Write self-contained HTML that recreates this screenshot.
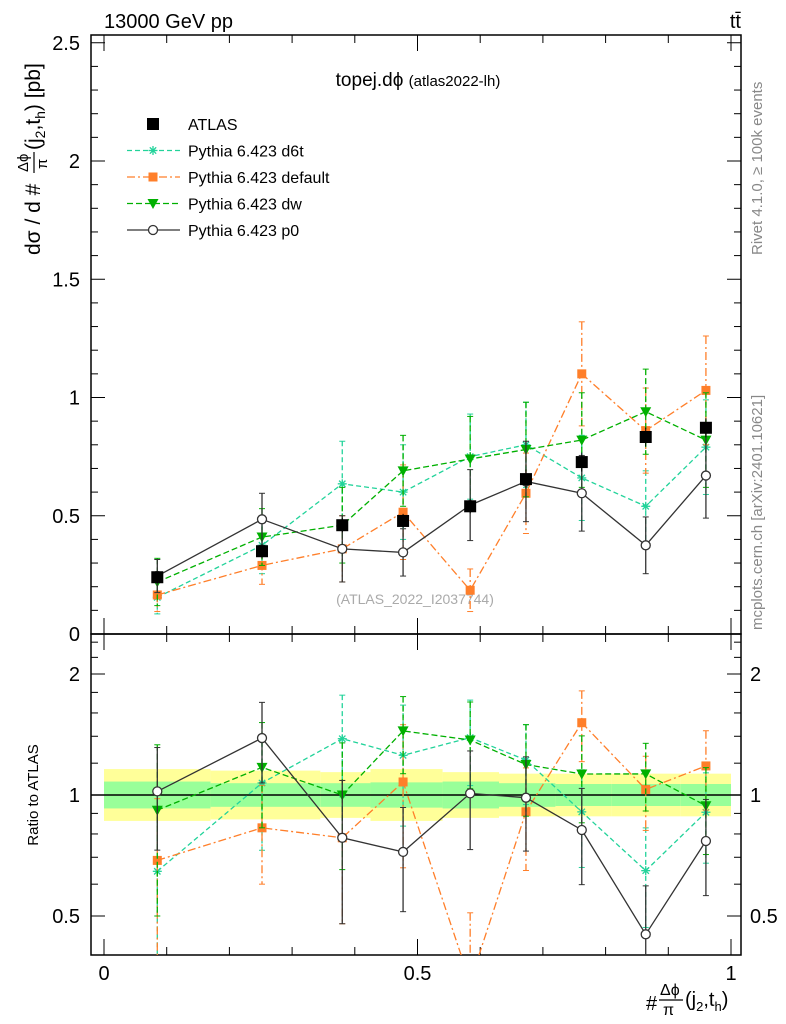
<!DOCTYPE html>
<html><head><meta charset="utf-8"><style>
html,body{margin:0;padding:0;background:#fff;overflow:hidden;width:786px;height:1024px}
svg{font-family:"Liberation Sans",sans-serif;display:block}
</style></head><body>
<svg id="c" width="786" height="1024" xmlns="http://www.w3.org/2000/svg">
<text x="104" y="28" font-size="20">13000 GeV pp</text>
<text x="741" y="28" font-size="20" text-anchor="end">tt̄</text>
<text x="418" y="86" font-size="19" text-anchor="middle">topej.dϕ <tspan font-size="15">(atlas2022-lh)</tspan></text>
<text x="415" y="604" font-size="14" fill="#aaa" text-anchor="middle">(ATLAS_2022_I2037744)</text>
<text transform="translate(762,255) rotate(-90)" font-size="15" fill="#888">Rivet 4.1.0, ≥ 100k events</text>
<text transform="translate(762,630) rotate(-90)" font-size="15" fill="#888">mcplots.cern.ch [arXiv:2401.10621]</text>
<g transform="translate(40,35) rotate(-90)">
<text x="-220" y="0" font-size="21">dσ / d #</text>
<text x="-137" y="-12" font-size="15">Δϕ</text>
<line x1="-138" x2="-117" y1="-6" y2="-6" stroke="#000" stroke-width="1.2"/>
<text x="-134" y="7" font-size="15">π</text>
<text x="-115" y="0" font-size="21">(j<tspan font-size="14" dy="5">2</tspan><tspan dy="-5">,t</tspan><tspan font-size="14" dy="5">h</tspan><tspan dy="-5">) [pb]</tspan></text>
</g>
<text transform="translate(38,795) rotate(-90)" font-size="15" text-anchor="middle">Ratio to ATLAS</text>
<g>
<text x="646" y="1010" font-size="20">#</text>
<text x="660" y="995" font-size="16">Δϕ</text>
<line x1="659" x2="683" y1="1000" y2="1000" stroke="#000" stroke-width="1.2"/>
<text x="663" y="1015" font-size="16">π</text>
<text x="685" y="1006" font-size="20">(j<tspan font-size="13" dy="5">2</tspan><tspan dy="-5">,t</tspan><tspan font-size="13" dy="5">h</tspan><tspan dy="-5">)</tspan></text>
</g>
<g id="g"></g>
</svg>
<script>
const binEdges=[0,0.17,0.345,0.425,0.54,0.63,0.72,0.81,0.92,1.0];
const binCenters=[0.085,0.252,0.38,0.477,0.584,0.673,0.762,0.864,0.96];
const atlas=[0.24,0.35,0.46,0.478,0.54,0.655,0.727,0.833,0.872];
const atlasErr=[0.02,0.03,0.03,0.03,0.03,0.04,0.04,0.04,0.04];
const statBand=[1.08,1.07,1.07,1.075,1.08,1.07,1.065,1.065,1.065];
const totBand=[1.16,1.15,1.14,1.16,1.14,1.13,1.13,1.13,1.13];
const d6t=[0.155,0.375,0.635,0.60,0.75,0.80,0.66,0.54,0.79];
const d6tErr=[0.07,0.12,0.18,0.2,0.18,0.18,0.18,0.15,0.2];
const dflt=[0.165,0.29,0.36,0.515,0.185,0.595,1.10,0.86,1.03];
const dfltErr=[0.07,0.08,0.14,0.2,0.09,0.17,0.22,0.18,0.23];
const dw=[0.22,0.41,0.46,0.69,0.74,0.78,0.82,0.94,0.82];
const dwErr=[0.1,0.12,0.16,0.15,0.18,0.2,0.2,0.18,0.2];
const p0=[0.245,0.485,0.36,0.345,0.545,0.645,0.595,0.375,0.67];
const p0Err=[0.07,0.11,0.14,0.1,0.15,0.17,0.16,0.12,0.18];
const yTicks=[0,0.5,1,1.5,2,2.5];
const rTicks=[0.5,1,2];
const xTicks=[0,0.5,1];

const NS="http://www.w3.org/2000/svg",G=document.getElementById('g');
const L=91,R=741,T=35,B=634,RB=955;
const X=v=>104+627*v;
const Y=v=>634-236.5*v;
const RY=r=>795-121*Math.log2(r);
function mk(t,a,p){const e=document.createElementNS(NS,t);for(const k in a)e.setAttribute(k,a[k]);(p||G).appendChild(e);return e;}
const defs=mk('defs',{});
const c1=mk('clipPath',{id:'cm'},defs);mk('rect',{x:L,y:T,width:R-L,height:B-T},c1);
const c2=mk('clipPath',{id:'cr'},defs);mk('rect',{x:L,y:B,width:R-L,height:RB-B},c2);
const bands=mk('g',{'clip-path':'url(#cr)'});


for(let i=0;i<binCenters.length;i++){
 const x0=X(binEdges[i]),x1=X(binEdges[i+1]);
 const ry=mk('rect',{x:x0,y:RY(totBand[i]),width:x1-x0,height:RY(1/totBand[i])-RY(totBand[i]),fill:'#ffff99'},bands);
 
 
 const rg=mk('rect',{x:x0,y:RY(statBand[i]),width:x1-x0,height:RY(1/statBand[i])-RY(statBand[i]),fill:'#99ff99'},bands);
 
 
}
mk('line',{x1:L,x2:R,y1:RY(1),y2:RY(1),stroke:'#000','stroke-width':1.5});
const fm=mk('rect',{x:L,y:T,width:R-L,height:B-T,fill:'none',stroke:'#000','stroke-width':1.5});

const fr=mk('rect',{x:L,y:B,width:R-L,height:RB-B,fill:'none',stroke:'#000','stroke-width':1.5});

for(let v=0;v<=2.5001;v+=0.1){const y=Y(v);const maj=Math.abs(v*2-Math.round(v*2))<1e-6;const l=maj?14:7;
 mk('line',{x1:L,x2:L+l,y1:y,y2:y,stroke:'#000'});mk('line',{x1:R,x2:R-l,y1:y,y2:y,stroke:'#000'});}
yTicks.forEach(v=>{const t=mk('text',{x:80,y:Y(v)+7,'font-size':20,'text-anchor':'end'});t.textContent=String(v);
 });
const rminor=[0.5,0.6,0.7,0.8,0.9,1,1.2,1.4,1.6,1.8,2,2.2,2.4];
rminor.forEach(r=>{const y=RY(r);const maj=rTicks.includes(r);const l=maj?14:7;
 mk('line',{x1:L,x2:L+l,y1:y,y2:y,stroke:'#000'});mk('line',{x1:R,x2:R-l,y1:y,y2:y,stroke:'#000'});});
rTicks.forEach(r=>{const t=mk('text',{x:80,y:RY(r)+7,'font-size':20,'text-anchor':'end'});t.textContent=String(r);
 
 const t2=mk('text',{x:750,y:RY(r)+7,'font-size':20});t2.textContent=String(r);
 });
for(let k=0;k<=10;k++){const v=k/10,x=X(v);const maj=k%5==0;const l=maj?16:8;
 [B,RB].forEach(yb=>mk('line',{x1:x,x2:x,y1:yb,y2:yb-l,stroke:'#000'}));
 [T,B].forEach(yt=>mk('line',{x1:x,x2:x,y1:yt,y2:yt+l,stroke:'#000'}));}
xTicks.forEach(v=>{const t=mk('text',{x:X(v),y:980,'font-size':20,'text-anchor':'middle'});t.textContent=String(v);
 });
function marker(p,kind,x,y,col){
 if(kind=='sq')mk('rect',{x:x-6,y:y-6,width:12,height:12,fill:col},p);
 else if(kind=='osq')mk('rect',{x:x-4.5,y:y-4.5,width:9,height:9,fill:col},p);
 else if(kind=='tri')mk('path',{d:`M${x-5.5} ${y-4.5}L${x+5.5} ${y-4.5}L${x} ${y+5.5}Z`,fill:col},p);
 else if(kind=='circ')mk('circle',{cx:x,cy:y,r:4.5,fill:'#fff',stroke:col,'stroke-width':1.3},p);
 else if(kind=='star'){for(let a=0;a<4;a++){const t=a*Math.PI/4;mk('line',{x1:x-4.5*Math.cos(t),y1:y-4.5*Math.sin(t),x2:x+4.5*Math.cos(t),y2:y+4.5*Math.sin(t),stroke:col,'stroke-width':1.3},p);}}
}
const series=[
 {name:'d6t',v:d6t,e:d6tErr,col:'#22d39a',dash:'5,3',m:'star'},
 {name:'default',v:dflt,e:dfltErr,col:'#ff7f2a',dash:'8,3,2,3',m:'osq'},
 {name:'dw',v:dw,e:dwErr,col:'#00b000',dash:'6,3',m:'tri'},
 {name:'p0',v:p0,e:p0Err,col:'#333',dash:'',m:'circ'}];
function draw(p,vals,errs,col,dash,m,ratio){
 const fy=ratio?(i,v)=>Math.min(RY(Math.max(v/atlas[i],0.01)),1000):(i,v)=>Y(v);
 const pts=vals.map((v,i)=>X(binCenters[i])+','+fy(i,v)).join(' ');
 mk('polyline',{points:pts,fill:'none',stroke:col,'stroke-width':1.3,'stroke-dasharray':dash},p);
 vals.forEach((v,i)=>{const x=X(binCenters[i]);const y1=fy(i,v+errs[i]),y2=fy(i,Math.max(v-errs[i],0.001));
  mk('line',{x1:x,x2:x,y1:y1,y2:y2,stroke:col,'stroke-width':1.3,'stroke-dasharray':dash},p);
  mk('line',{x1:x-3,x2:x+3,y1:y1,y2:y1,stroke:col},p);mk('line',{x1:x-3,x2:x+3,y1:y2,y2:y2,stroke:col},p);
  marker(p,m,x,fy(i,v),col);});
}
[['cm',false],['cr',true]].forEach(([cp,ratio])=>{
 const pg=mk('g',{'clip-path':`url(#${cp})`});
 series.forEach(s=>{const g=mk('g',{},pg);
  
  
  draw(g,s.v,s.e,s.col,s.dash,s.m,ratio);});
 if(!ratio){const g=mk('g',{},pg);
  
  
  atlas.forEach((v,i)=>{const x=X(binCenters[i]);mk('line',{x1:x,x2:x,y1:Y(v+atlasErr[i]),y2:Y(v-atlasErr[i]),stroke:'#000'},g);marker(g,'sq',x,Y(v),'#000');});}
});
const lg=mk('g',{});


const legRows=[['ATLAS','#000','','sq'],['Pythia 6.423 d6t','#22d39a','5,3','star'],['Pythia 6.423 default','#ff7f2a','8,3,2,3','osq'],['Pythia 6.423 dw','#00b000','6,3','tri'],['Pythia 6.423 p0','#333','','circ']];
legRows.forEach((r,i)=>{const y=124+26.5*i;const e=mk('g',{},lg);
 
 
 if(i>0)mk('line',{x1:127,x2:180,y1:y,y2:y,stroke:r[1],'stroke-width':1.3,'stroke-dasharray':r[2]},e);
 marker(e,r[3],153,y,r[1]);
 const t=mk('text',{x:188,y:y+6,'font-size':16},e);t.textContent=r[0];});
</script>
</body></html>
